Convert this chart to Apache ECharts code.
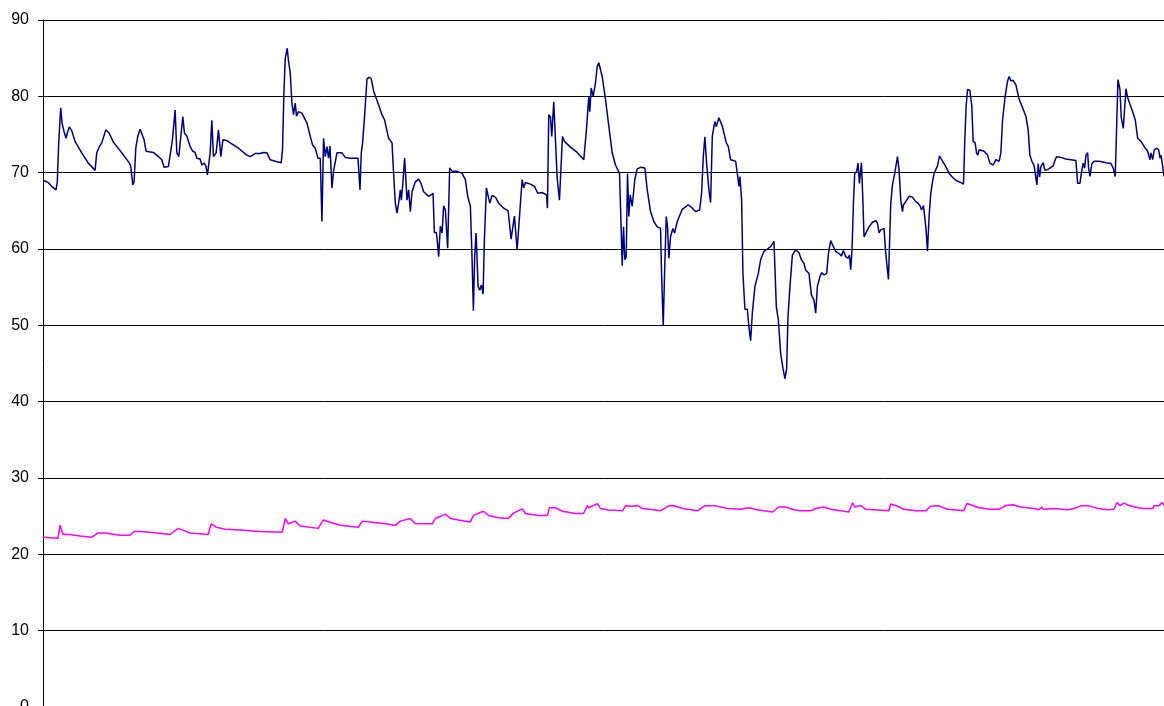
<!DOCTYPE html>
<html>
<head>
<meta charset="utf-8">
<script src="https://cdn.jsdelivr.net/npm/echarts@6/dist/echarts.min.js"></script>
<style>
  html, body { margin: 0; padding: 0; background: #fff; }
  #chart { width: 1164px; height: 706px; }
</style>
</head>
<body>
<div id="chart"></div>
<script>
// Y axis scale
const yTicks = [0, 10, 20, 30, 40, 50, 60, 70, 80, 90];
const sampleCount = 1120;

// Upper trace: [sample, value]
const upperTrace = [
  [0.3,69.0],[5.3,68.7],[8.7,68.2],[13,67.75],[14.3,68.8],[15.7,73.9],[17.7,78.5],[19,76.5],[21,75.4],[23,74.5],
  [24.3,75.2],[26.3,76.0],[28.7,75.5],[32,74.1],[38.7,72.6],[45.3,71.25],[52,70.3],[53.7,72.6],[56.3,73.4],[58.7,73.9],
  [62.7,75.6],[66,75.2],[70.3,74.0],[78.7,72.6],[86.3,71.25],[87.7,70.8],[89.7,68.4],[91,68.8],[92.7,73.2],[94.7,74.75],
  [97,75.7],[98.7,75.6],[101,74.3],[103,72.8],[104.3,73.0],[110.3,72.65],[115.3,72.1],[118.7,71.7],[121,70.7],[125.3,70.8],
  [127,71.0],[129.3,74.3],[132,78.2],[133.7,72.6],[135.7,72.1],[137.7,74.75],[139.7,77.3],[141.3,75.2],[143.7,74.8],[147,73.4],
  [149.7,72.8],[152,72.65],[153.7,71.9],[157,71.8],[158.7,71.0],[161,71.25],[162.7,70.9],[164.3,69.7],[165.3,70.8],[167,72.6],
  [168.7,76.85],[170.3,72.1],[173,72.6],[175.3,75.6],[177.7,72.1],[179.7,74.3],[183.7,74.2],[187,73.9],[195.3,73.2],[203.7,72.3],
  [207,72.1],[212,72.5],[217,72.5],[220.3,72.65],[223.7,72.6],[227,71.7],[232,71.5],[238,71.3],[239.3,73.0],[240.7,80.4],
  [242,85.0],[244,86.3],[245.3,84.6],[247,83.1],[248.7,79.1],[250.3,77.6],[252,79.1],[253.3,77.4],[255.3,78.0],[258.7,77.8],
  [263.7,76.5],[267,74.75],[269.3,73.65],[272,73.2],[274.7,71.9],[277,71.9],[278.7,63.6],[280.3,74.5],[282,72.1],[283.7,73.4],
  [285.3,71.9],[286.7,73.5],[288.7,68.0],[290.3,70.2],[293.7,72.6],[298.7,72.6],[302,72.0],[307,71.9],[314.7,71.9],[316.7,67.75],
  [318,72.6],[319.3,73.9],[321.3,77.4],[323.7,82.3],[326,82.5],[328,82.3],[330.3,80.7],[334.7,79.1],[338.7,77.6],[341.3,76.9],
  [345.3,74.5],[348.7,73.9],[350.3,69.9],[352,66.0],[353.7,64.7],[355.3,66.0],[357,67.75],[358,66.4],[359.3,68.2],[361.3,71.9],
  [362.7,72.1],[363.7,66.4],[365.3,67.75],[367,64.9],[368.7,67.5],[372,68.8],[375.3,69.15],[377.7,68.6],[380.3,67.5],[385.3,66.9],
  [389.7,67.3],[391,62.15],[393,62.15],[393.7,61.4],[395.3,59.0],[397,63.0],[398.7,62.1],[400.3,65.65],[402,65.1],[404.3,60.1],
  [406.3,70.6],[408.7,70.2],[413.7,70.2],[418.7,69.9],[422,69.1],[424.3,66.9],[427,65.6],[428.7,58.6],[430,51.9],[431.3,59.0],
  [432.7,62.1],[434.7,55.1],[436.3,54.6],[438,55.3],[439.7,54.1],[441,61.2],[443,68.0],[444.7,67.75],[446.3,66.0],[448.7,67.0],
  [452,66.8],[455.3,66.0],[460.3,65.35],[464.7,65.0],[466,63.4],[467.7,61.3],[471,64.3],[473.7,59.9],[476.3,64.7],[478.7,69.1],
  [480.3,68.0],[482,68.7],[487,68.5],[491,68.2],[494.3,67.3],[498.7,67.4],[503,67.1],[504,65.35],[505.3,77.6],[507,77.3],
  [508.3,74.75],[510.3,79.3],[512,74.3],[513.7,69.3],[516,66.4],[519,74.75],[521,74.1],[527,73.35],[533.7,72.65],[540.3,71.7],
  [543,75.7],[545.3,80.0],[546.3,78.0],[547.7,81.1],[549.7,80.0],[552,81.75],[553.7,83.9],[555.3,84.4],[558.7,82.6],[562,79.6],
  [565.3,76.1],[568.7,72.6],[572,71.0],[576,69.9],[577.3,64.25],[578.7,57.8],[580,62.9],[581.3,58.6],[582.7,59.0],[584,69.9],
  [585.3,64.25],[586.7,67.1],[588.7,65.6],[591.3,69.1],[593.7,70.5],[597,70.7],[601.3,70.6],[603.7,67.75],[607,64.9],[610.3,63.6],
  [613.7,62.9],[617,62.7],[618,56.8],[619.7,49.9],[621,56.8],[622.7,64.25],[624,62.9],[625.3,58.8],[627,61.6],[629.3,62.7],
  [631,62.1],[633.7,63.6],[638.7,65.2],[644.7,65.8],[648.7,65.35],[652,64.9],[656,65.1],[658,67.3],[659.7,72.1],[661.3,74.7],
  [663,71.25],[665.3,67.75],[667,66.1],[668.7,74.75],[670.3,76.0],[671.3,76.7],[672.7,76.0],[675.3,77.2],[678.7,76.1],[682.7,73.9],
  [684.7,73.4],[687,71.7],[692,71.5],[693.7,69.9],[695.3,68.2],[696.3,69.5],[698,66.4],[699.3,56.8],[701.3,52.1],[703.7,52.1],
  [705.3,49.8],[707,48.0],[708.7,51.6],[711.3,55.1],[714.7,56.8],[717,58.6],[720.3,59.7],[723.7,60.0],[727,60.3],[730.3,61.0],
  [731.3,61.2],[732.7,52.4],[734.7,50.7],[737,46.3],[739.3,44.35],[741.3,43.0],[743,44.35],[744.3,51.1],[746.3,55.1],[748.7,59.2],
  [752,59.9],[755.3,59.5],[757.7,58.6],[760.3,58.1],[762,57.25],[763.7,57.5],[765.3,56.8],[767.7,54.0],[770.3,53.3],[772,51.6],
  [773.7,55.1],[776.3,56.4],[778,56.9],[780.3,56.6],[783,56.8],[784.7,59.4],[787,61.1],[789.7,60.3],[792,59.7],[795.3,59.4],
  [797.7,59.1],[799.7,59.8],[802,59.0],[804.3,58.8],[805.7,59.2],[807,57.3],[808.3,59.9],[809.7,66.0],[811,69.9],[813,70.2],
  [814.3,71.25],[815.7,68.6],[817.7,71.3],[819,66.9],[820.3,61.6],[823,62.3],[825.3,62.9],[828.7,63.5],[832,63.7],[833.7,63.4],
  [835.3,62.1],[837,62.5],[838.7,62.3],[840.3,62.7],[842,59.4],[844.7,56.0],[847,66.0],[848.7,68.4],[851,69.9],[853.7,72.1],
  [855.3,70.4],[857,66.4],[858.7,64.9],[859.7,65.8],[862,66.2],[865.3,66.9],[868.7,66.8],[872,66.2],[874.3,66.0],[876.3,65.65],
  [877.7,65.1],[879.7,65.7],[881.3,65.65],[882.3,62.5],[883.7,59.7],[885.3,64.25],[887,67.3],[888.7,68.8],[890.3,69.9],[892,70.4],
  [893.7,70.9],[895.7,72.2],[898.7,71.5],[902,70.8],[905.3,69.9],[908.7,69.4],[912,69.0],[917,68.7],[919.7,68.5],[921,74.3],
  [922.3,78.7],[923.7,80.9],[926,80.8],[928,78.7],[929.3,74.1],[931.3,73.9],[932.7,72.6],[934,72.3],[935.3,73.0],[940.3,72.8],
  [943.7,72.3],[946,71.25],[949.3,71.0],[952,71.7],[955.3,71.5],[957,72.6],[958.7,76.9],[961.3,80.0],[963.7,82.0],[965.3,82.6],
  [967,82.0],[969.3,82.1],[972,81.5],[975.3,79.6],[978.7,78.5],[982,77.4],[984.3,75.6],[986,72.3],[988,71.5],[990.3,70.9],
  [992,70.8],[993,68.4],[994.3,71.2],[995.7,69.4],[997,70.8],[999.3,71.3],[1001,70.3],[1003.7,70.4],[1007,70.7],[1009.3,70.9],
  [1011.3,71.7],[1012.7,72.1],[1017,72.0],[1022,71.8],[1027,71.7],[1032,71.6],[1033.7,68.6],[1036,68.6],[1038,70.4],[1039.3,71.25],
  [1040.7,70.6],[1042,72.3],[1043.7,72.6],[1044.7,70.6],[1046,69.5],[1048,71.2],[1050.3,71.5],[1055.3,71.5],[1062,71.3],[1067,71.2],
  [1069.3,70.6],[1071.3,69.5],[1072.7,76.1],[1074,82.2],[1076,80.9],[1077.3,77.2],[1079.3,75.8],[1080.7,75.6],[1082,81.0],[1083.7,79.8],
  [1085.3,79.6],[1088,78.25],[1091.3,76.9],[1093.7,74.5],[1097,74.1],[1100.3,73.4],[1103.7,72.8],[1106,71.7],[1107,72.6],[1108.7,71.7],
  [1110.3,73.0],[1112.7,73.2],[1114.7,73.0],[1116,71.9],[1117,72.3],[1118.7,70.8],[1120,69.5]
];

// Lower trace: [sample, value]
const lowerTrace = [
  [0,22.25],[15,22.1],[17,23.8],[20,22.6],[27,22.6],[37,22.4],[49,22.25],[55,22.8],[62,22.8],[77,22.5],
  [87,22.5],[91,23.0],[97,23.0],[107,22.9],[127,22.6],[135,23.4],[139,23.2],[147,22.8],[165,22.6],[168,24.0],
  [173,23.55],[182,23.3],[197,23.2],[217,23.0],[239,22.9],[242,24.7],[245,24.0],[252,24.35],[257,23.7],[275,23.4],
  [280,24.5],[287,24.2],[297,23.8],[315,23.55],[319,24.35],[329,24.2],[342,24.0],[352,23.8],[357,24.35],[367,24.7],
  [372,24.0],[389,24.0],[392,24.7],[402,25.26],[407,24.7],[415,24.5],[427,24.25],[430,25.1],[440,25.65],[445,25.1],
  [455,24.8],[465,24.7],[470,25.4],[479,25.95],[482,25.35],[495,25.1],[504,25.1],[506,26.1],[512,26.1],[519,25.65],
  [532,25.35],[540,25.35],[544,26.4],[545,26.1],[554,26.65],[557,26.0],[565,25.8],[579,25.7],[582,26.35],[589,26.3],
  [594,26.4],[599,26.0],[612,25.8],[617,25.7],[625,26.35],[630,26.4],[639,26.0],[654,25.7],[661,26.35],[672,26.35],
  [684,26.0],[697,25.9],[705,26.1],[715,25.8],[729,25.55],[735,26.2],[742,26.2],[750,25.85],[757,25.7],[767,25.7],
  [772,26.0],[780,26.2],[787,25.9],[797,25.7],[805,25.55],[809,26.75],[811,26.2],[817,26.4],[822,25.9],[834,25.8],
  [845,25.7],[847,26.6],[854,26.3],[860,25.9],[872,25.7],[882,25.7],[887,26.3],[895,26.35],[904,25.9],[920,25.7],
  [923,26.65],[929,26.4],[935,26.1],[947,25.9],[955,25.9],[962,26.4],[969,26.5],[977,26.2],[990,26.0],[995,25.85],
  [998,26.2],[999,25.9],[1010,26.0],[1024,25.85],[1030,26.0],[1037,26.35],[1045,26.35],[1054,26.0],[1064,25.85],[1070,25.9],
  [1073,26.8],[1076,26.4],[1080,26.7],[1085,26.4],[1094,26.1],[1100,26.0],[1109,26.0],[1110,26.35],[1115,26.35],[1118,26.8],
  [1120,26.4]
];

const chart = echarts.init(document.getElementById('chart'), null, { renderer: 'canvas' });

chart.setOption({
  animation: false,
  backgroundColor: '#ffffff',
  grid: { left: 43, right: 0, top: 20, height: 687, containLabel: false, outerBoundsMode: 'none' },
  xAxis: {
    type: 'value',
    min: 0,
    max: sampleCount,
    show: false
  },
  yAxis: {
    type: 'value',
    min: yTicks[0],
    max: yTicks[yTicks.length - 1],
    interval: yTicks[1] - yTicks[0],
    axisLine: { show: true, lineStyle: { color: '#000000', width: 1 } },
    axisTick: { show: true, length: 5, lineStyle: { color: '#000000', width: 1 } },
    axisLabel: {
      color: '#000000',
      fontSize: 16,
      fontFamily: '"Liberation Sans", Arial, sans-serif',
      margin: 14
    },
    splitLine: { show: true, lineStyle: { color: '#000000', width: 1 } }
  },
  series: [
    {
      type: 'line',
      data: upperTrace,
      showSymbol: false,
      sampling: null,
      lineStyle: { color: '#000080', width: 1.5 },
      itemStyle: { color: '#000080' }
    },
    {
      type: 'line',
      data: lowerTrace,
      showSymbol: false,
      sampling: null,
      lineStyle: { color: '#ff00ff', width: 1.5 },
      itemStyle: { color: '#ff00ff' }
    }
  ]
});
</script>
</body>
</html>
